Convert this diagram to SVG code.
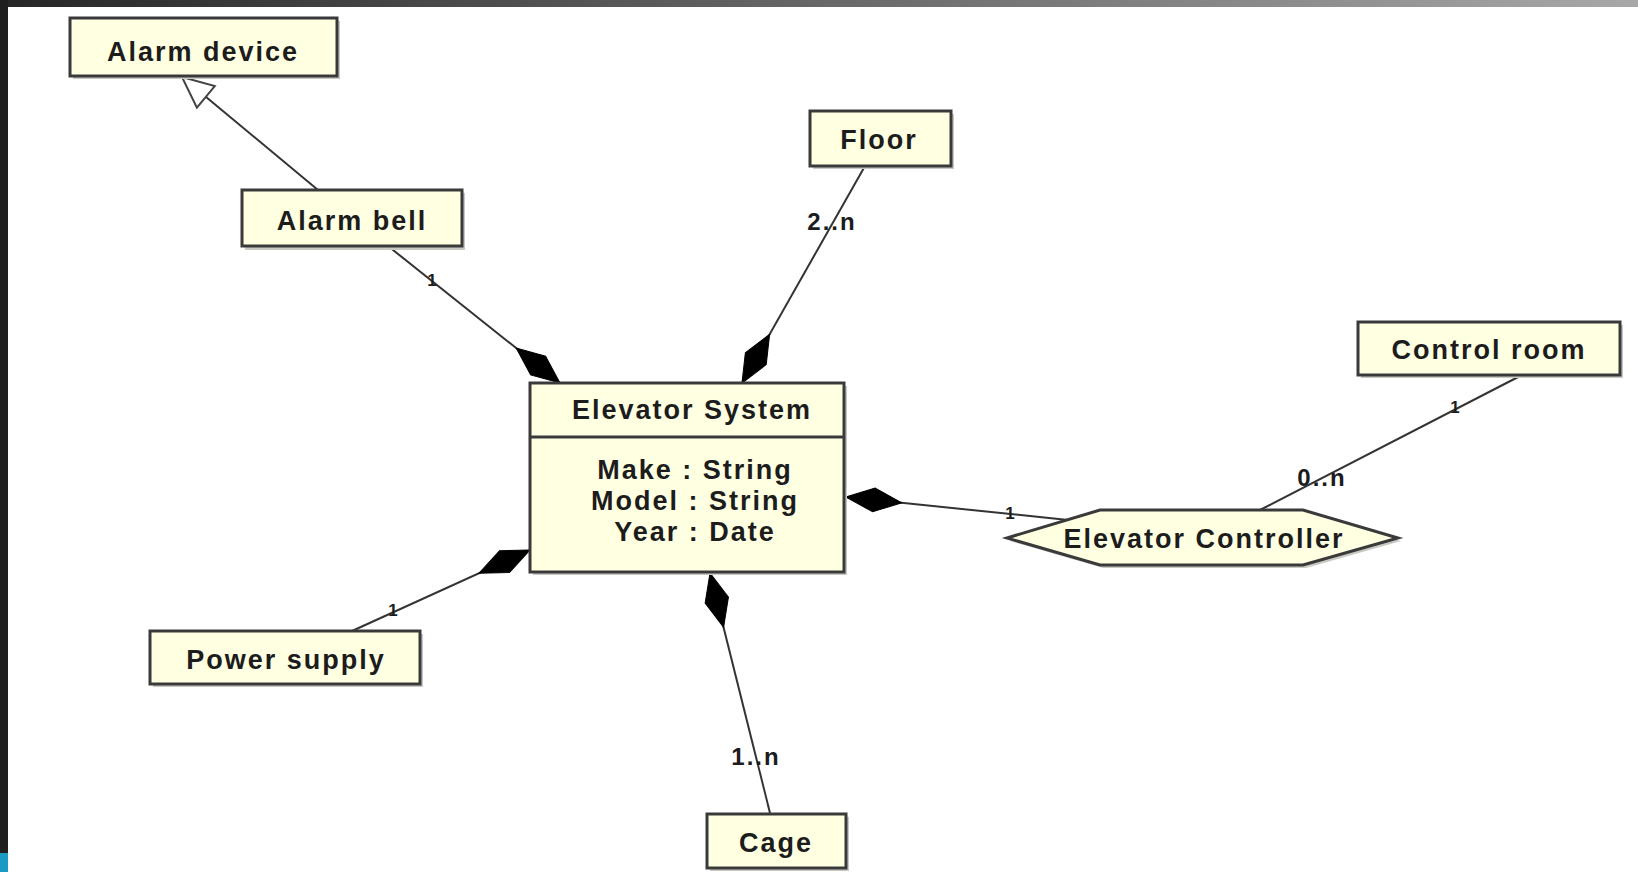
<svg xmlns="http://www.w3.org/2000/svg" width="1638" height="872" viewBox="0 0 1638 872">
  <defs>
    <linearGradient id="topBand" x1="0" y1="0" x2="1" y2="0">
      <stop offset="0" stop-color="#262626"/>
      <stop offset="1" stop-color="#a8a8a8"/>
    </linearGradient>
    <!-- filled diamond: composition end at the whole -->
    <marker id="diamond" markerUnits="userSpaceOnUse" markerWidth="62" markerHeight="32" viewBox="-60 -16 62 32" refX="0" refY="0" orient="auto">
      <path d="M0,0 L-28,-12 L-56,0 L-28,12 Z" fill="#000" stroke="#000" stroke-width="1"/>
    </marker>
    <!-- hollow triangle: generalization -->
    <marker id="hollowTri" markerUnits="userSpaceOnUse" markerWidth="36" markerHeight="34" viewBox="-34 -17 36 34" refX="0" refY="0" orient="auto">
      <path d="M0,0 L-31,-14 L-31,14 Z" fill="#fff" stroke="#444" stroke-width="2"/>
    </marker>
  </defs>
  <style>
    .shadow { fill: #c9c9c4; }
    .box { fill: #ffffe2; stroke: #3a3a3a; stroke-width: 3; }
    .label { font-family: "Liberation Sans", Arial, sans-serif; font-weight: bold; font-size: 27px; letter-spacing: 2px; fill: #1c1c1c; text-anchor: middle; }
    .mult { font-family: "Liberation Sans", Arial, sans-serif; font-weight: bold; font-size: 24px; letter-spacing: 2px; fill: #1c1c1c; text-anchor: middle; }
    .tick { font-family: "Liberation Sans", Arial, sans-serif; font-weight: bold; font-size: 17px; fill: #1c1c1c; text-anchor: middle; }
    .conn { fill: none; stroke: #333; stroke-width: 2; }
  </style>

  <!-- page frame -->
  <rect x="0" y="0" width="1638" height="872" fill="#ffffff"/>
  <rect x="0" y="0" width="1638" height="7" fill="url(#topBand)"/>
  <rect x="0" y="0" width="8" height="872" fill="#1f1f1f"/>
  <rect x="0" y="853" width="8" height="19" fill="#1a9bc2"/>

  <!-- connectors -->
  <g id="connectors">
    <line class="conn" x1="318" y1="190" x2="182" y2="77" marker-end="url(#hollowTri)"/>
    <line class="conn" x1="388" y1="246" x2="560" y2="383" marker-end="url(#diamond)"/>
    <line class="conn" x1="865" y1="166" x2="742" y2="383" marker-end="url(#diamond)"/>
    <line class="conn" x1="352" y1="631" x2="530" y2="550" marker-end="url(#diamond)"/>
    <line class="conn" x1="770" y1="813" x2="710" y2="573" marker-end="url(#diamond)"/>
    <line class="conn" x1="1068" y1="520" x2="846" y2="497" marker-end="url(#diamond)"/>
    <line class="conn" x1="1522" y1="375" x2="1260" y2="510"/>
    <text class="tick" x="432" y="286">1</text>
    <text class="tick" x="393" y="616">1</text>
    <text class="tick" x="1010" y="519">1</text>
    <text class="tick" x="1455" y="413">1</text>
    <text class="mult" x="832" y="230">2..n</text>
    <text class="mult" x="756" y="765">1..n</text>
    <text class="mult" x="1322" y="486">0..n</text>
  </g>

  <g id="alarm-device">
    <rect class="shadow" x="73" y="21" width="267" height="58"/>
    <rect class="box" x="70" y="18" width="267" height="58"/>
    <text class="label" x="203" y="61">Alarm device</text>
  </g>

  <g id="alarm-bell">
    <rect class="shadow" x="245" y="193" width="220" height="57"/>
    <rect class="box" x="242" y="190" width="220" height="56"/>
    <text class="label" x="352" y="230">Alarm bell</text>
  </g>

  <g id="floor">
    <rect class="shadow" x="813" y="114" width="141" height="55"/>
    <rect class="box" x="810" y="111" width="141" height="55"/>
    <text class="label" x="879" y="149">Floor</text>
  </g>

  <g id="control-room">
    <rect class="shadow" x="1361" y="325" width="262" height="53"/>
    <rect class="box" x="1358" y="322" width="262" height="53"/>
    <text class="label" x="1489" y="359">Control room</text>
  </g>

  <g id="elevator-system">
    <rect class="shadow" x="533" y="386" width="314" height="189"/>
    <rect class="box" x="530" y="383" width="314" height="189"/>
    <line x1="530" y1="437" x2="844" y2="437" stroke="#3a3a3a" stroke-width="3"/>
    <text class="label" x="692" y="419">Elevator System</text>
    <text class="label" x="695" y="479">Make : String</text>
    <text class="label" x="695" y="510">Model : String</text>
    <text class="label" x="695" y="541">Year : Date</text>
  </g>

  <g id="elevator-controller">
    <polygon class="shadow" points="1010,541 1103,513 1306,513 1401,541 1306,568 1103,568"/>
    <polygon class="box" points="1007,538 1100,510 1303,510 1398,538 1303,565 1100,565" stroke-width="2.5"/>
    <text class="label" x="1204" y="548">Elevator Controller</text>
  </g>

  <g id="power-supply">
    <rect class="shadow" x="153" y="634" width="270" height="53"/>
    <rect class="box" x="150" y="631" width="270" height="53"/>
    <text class="label" x="286" y="669">Power supply</text>
  </g>

  <g id="cage">
    <rect class="shadow" x="710" y="817" width="139" height="54"/>
    <rect class="box" x="707" y="814" width="139" height="54"/>
    <text class="label" x="776" y="852">Cage</text>
  </g>
</svg>
